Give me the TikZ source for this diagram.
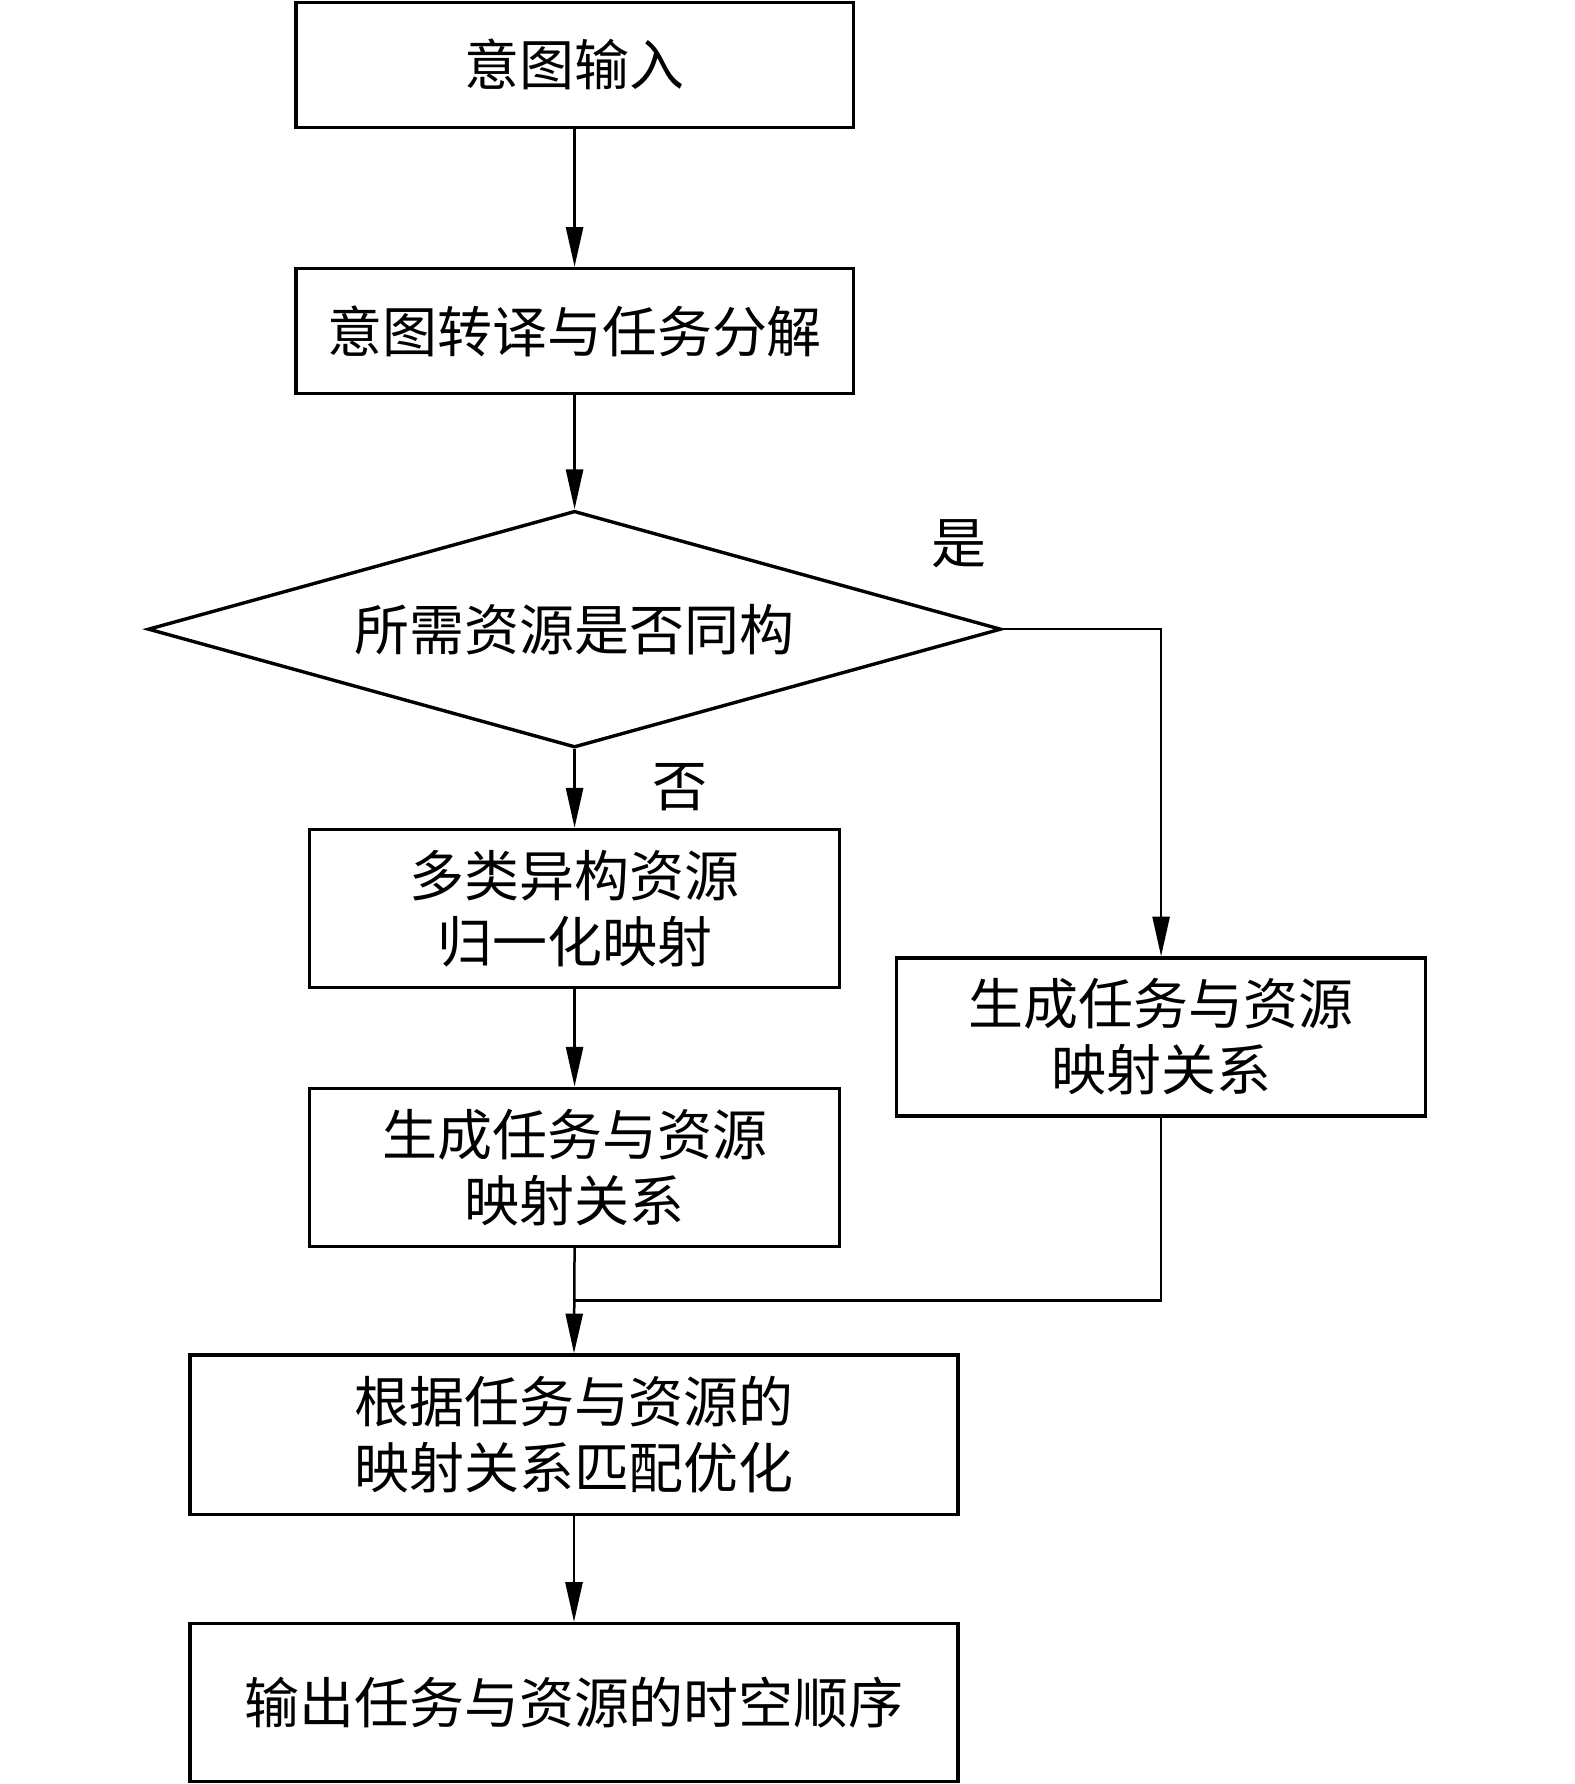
\documentclass[tikz,border=0pt]{standalone}
\usepackage{fontspec}
\setmainfont{Noto Sans CJK SC}
\usetikzlibrary{shapes.geometric,arrows.meta}
\begin{document}
\begin{tikzpicture}[x=0.02cm,y=-0.02cm,
  line width=1.25pt,
  font=\fontsize{27.5}{33}\selectfont,
  box/.style={draw,rectangle,line width=1.7pt,align=center,inner sep=0pt,minimum height=2.78cm},
  arr/.style={-{Triangle[length=0.7cm,width=0.3cm]}},
  lbl/.style={inner sep=0pt}]
\useasboundingbox (0,0) rectangle (1384,1568);
\node[box,minimum width=9.8cm,minimum height=2.2cm] (b1) at (505,57) {意图输入};
\node[box,minimum width=9.8cm,minimum height=2.2cm] (b2) at (505,291) {意图转译与任务分解};
\node[draw,diamond,line width=1.7pt,aspect=3.6,inner sep=0pt,minimum width=15cm,minimum height=4.16cm] (d) at (505,553) {所需资源是否同构};
\node[box,minimum width=9.32cm] (b3) at (505,798.5) {多类异构资源\\归一化映射};
\node[box,minimum width=9.32cm] (b4) at (505,1026) {生成任务与资源\\映射关系};
\node[box,minimum width=9.3cm] (rb) at (1020.5,911.5) {生成任务与资源\\映射关系};
\node[box,minimum width=13.5cm,minimum height=2.8cm] (b5) at (504.5,1261) {根据任务与资源的\\映射关系匹配优化};
\node[box,minimum width=13.5cm] (b6) at (504.5,1496.5) {输出任务与资源的时空顺序};
\node[lbl] (yes) at (843,478) {是};
\node[lbl] (no) at (598,692) {否};
\coordinate (j) at (505,1143);
\draw[arr] (b1) -- (b2);
\draw[arr] (b2) -- (d.north);
\draw[arr] (d.south) -- (b3);
\draw[arr] (b3) -- (b4);
\draw[arr] (d.east) -| (rb.north);
\draw (rb.south) |- (j);
\draw[arr] (b4.south) -- (b5.north);
\draw[arr] (b5) -- (b6);
\end{tikzpicture}
\end{document}
